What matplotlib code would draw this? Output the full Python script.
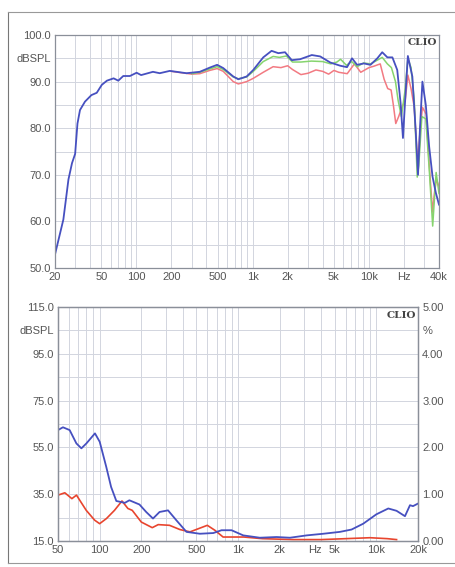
import numpy as np
import matplotlib.pyplot as plt
from matplotlib.lines import Line2D

# top chart: frequency response (Hz, dBSPL)
blue_f = [20, 23.6, 26.1, 28.0, 29.8, 31.2, 32.8, 36.2, 41.1, 45.7, 50.5, 55.9, 63.8, 70, 77.2, 88.1,
          100.6, 110, 139, 159, 194, 270, 351, 428, 495, 559, 681, 753, 889, 1013, 1234, 1455,
          1662, 1899, 2169, 2558, 3225, 3808, 4647, 5672, 6477, 7155, 7904, 9027, 10300, 11800,
          13000, 14400, 15900, 17500, 18700, 19600, 20400, 21600, 23600, 25200, 26400, 27500,
          28800, 30800, 32900, 35200, 37600, 40000]
blue_db = [52.9, 60.4, 69.0, 72.5, 74.5, 81.0, 83.9, 85.7, 87.1, 87.6, 89.3, 90.2, 90.7, 90.2, 91.2, 91.2,
           91.9, 91.4, 92.1, 91.8, 92.3, 91.8, 92.1, 93.0, 93.6, 92.9, 91.1, 90.5, 91.1, 92.5, 95.2, 96.6,
           96.1, 96.3, 94.6, 94.8, 95.7, 95.4, 94.1, 93.4, 93.1, 95.0, 93.6, 93.9, 93.6, 95.0,
           96.3, 95.2, 95.2, 92.5, 85.4, 77.9, 85.4, 95.5, 91.1, 79.6, 70.0, 80.4,
           90.0, 85.0, 76.1, 69.6, 66.1, 63.6]

green_f = [300, 351, 428, 495, 559, 681, 753, 889, 1013, 1234, 1500, 1700, 1950, 2200, 2600, 3200,
           4000, 4700, 5300, 5700, 6400, 7100, 7900, 9000, 10300, 11800, 13000, 14400, 15600, 16900,
           17800, 19000, 20400, 21600, 23000, 24500, 26000, 26800, 28500, 30800, 33000, 35300,
           37800, 40000]
green_db = [91.7, 92.0, 92.7, 93.2, 92.6, 91.0, 90.6, 91.0, 92.2, 94.3, 95.4, 95.2, 95.5, 94.2, 94.2, 94.4,
            94.3, 93.8, 94.2, 94.8, 93.5, 94.3, 93.2, 94.0, 93.8, 94.6, 95.2, 93.8, 93.0, 90.0,
            86.0, 82.5, 88.0, 95.0, 93.0, 86.0, 69.5, 72.0, 82.5, 82.0, 71.0, 59.0,
            70.5, 66.0]

red_f = [200, 300, 351, 428, 495, 559, 681, 753, 889, 1013, 1234, 1500, 1750, 2000, 2200, 2600, 3000,
         3500, 4000, 4500, 5000, 5500, 6500, 7500, 8500, 10000, 11000, 12500, 13500, 14500, 15500,
         16200, 17000, 18000, 19200, 20500, 21600, 23000, 24500, 26200, 27200, 28800, 31000, 33000,
         35200, 36500, 38000, 40000]
red_db = [92.2, 91.6, 91.7, 92.4, 92.8, 92.2, 90.0, 89.5, 90.0, 90.7, 92.0, 93.2, 93.0, 93.4, 92.6, 91.5, 91.8,
          92.5, 92.2, 91.6, 92.4, 92.0, 91.7, 93.8, 92.0, 93.0, 93.3, 93.8, 90.5, 88.5, 88.2,
          85.0, 81.0, 82.5, 84.5, 86.0, 91.4, 88.5, 84.5, 72.5, 78.0, 84.5, 83.0, 72.0,
          62.0, 66.0, 69.0, 67.5]

# bottom chart: distortion (Hz, dBSPL on left scale)
thd_f = [50, 54.3, 60.7, 67.9, 73.8, 80.2, 92.5, 100.1, 111.6, 121, 132, 152, 164, 194, 217, 243, 271,
         312, 358, 424, 530, 663, 760, 898, 1091, 1437, 1900, 2375, 3135, 4138, 5455, 6620, 8040,
         10000, 12200, 14000, 16100, 17500, 18400, 20000]
thd_db = [62.4, 63.6, 62.4, 56.7, 54.6, 56.7, 61.0, 57.4, 46.7, 38.1, 32.1, 31.3, 32.4, 30.6, 27.4, 24.6, 27.4,
          28.1, 23.9, 18.9, 18.1, 18.4, 19.6, 19.6, 17.4, 16.4, 16.7, 16.4, 17.4, 18.1, 18.9, 19.9, 22.4,
          26.4, 28.9, 27.9, 25.6, 30.3, 29.9, 31.0]

h3_f = [50, 56, 63, 68, 80, 92, 100, 112, 128, 145, 160, 172, 200, 240, 265, 320, 380, 450, 600, 680,
        780, 900, 1100, 1500, 2500, 4000, 6000, 9000, 12000, 14000]
h3_db = [34.6, 35.6, 33.1, 34.6, 28.1, 23.9, 22.4, 24.6, 28.1, 32.1, 28.9, 28.1, 23.1, 20.7, 22.0, 21.7,
         19.9, 18.9, 21.7, 19.6, 16.7, 16.7, 16.7, 16.0, 15.6, 15.6, 16.0, 16.4, 16.0, 15.6]

top_ticks = [20, 50, 100, 200, 500, 1000, 2000, 5000, 10000, 20000, 40000]
top_ticklabels = ['20', '50', '100', '200', '500', '1k', '2k', '5k', '10k', 'Hz', '40k']
bot_ticks = [50, 100, 200, 500, 1000, 2000, 5000, 10000, 20000]
bot_ticklabels = ['50', '100', '200', '500', '1k', '2k', '5k', '10k', '20k']

BLUE = '#4650c0'
GREEN = '#86d46e'
PINK = '#f27a82'
RED = '#e8452e'
TXT = '#555555'
GRID = '#d2d5de'
FS = 8

plt.rcParams['font.family'] = ['Liberation Sans', 'DejaVu Sans']

fig = plt.figure(figsize=(4.56, 5.67), dpi=100)


def log_grid(ax, lo, hi):
    for dec in [10, 100, 1000, 10000]:
        for m in range(1, 10):
            f = dec * m
            if lo < f < hi:
                ax.axvline(f, color=GRID, lw=0.7, zorder=0)


def style(ax):
    for s in ax.spines.values():
        s.set_color('#8a8f99')
        s.set_linewidth(0.9)
    ax.tick_params(length=0, labelsize=FS, colors=TXT, pad=3)
    ax.minorticks_off()


# ---- top chart
ax1 = fig.add_axes([55 / 456, 1 - 268 / 567, 384 / 456, 233 / 567])
ax1.set_xscale('log')
ax1.set_xlim(20, 40000)
ax1.set_ylim(50, 100)
log_grid(ax1, 20, 40000)
for v in np.arange(55, 100, 5):
    ax1.axhline(v, color=GRID, lw=0.7, zorder=0)
ax1.plot(red_f, red_db, color=PINK, lw=1.1)
ax1.plot(green_f, green_db, color=GREEN, lw=1.1)
ax1.plot(blue_f, blue_db, color=BLUE, lw=1.3)
ax1.set_xticks(top_ticks)
ax1.set_xticklabels(top_ticklabels)
ax1.set_yticks([50, 60, 70, 80, 90, 95, 100])
ax1.set_yticklabels(['50.0', '60.0', '70.0', '80.0', '90.0', 'dBSPL', '100.0'])
style(ax1)
ax1.text(0.995, 0.985, 'CLIO', transform=ax1.transAxes, ha='right', va='top',
         family='DejaVu Serif', fontweight='bold', fontsize=7.5, color='#444444')

# ---- bottom chart
ax2 = fig.add_axes([58 / 456, 1 - 541 / 567, 360 / 456, 234 / 567])
ax2.set_xscale('log')
ax2.set_xlim(50, 20000)
ax2.set_ylim(15, 115)
log_grid(ax2, 50, 20000)
for v in np.arange(25, 115, 10):
    ax2.axhline(v, color=GRID, lw=0.7, zorder=0)
ax2.plot(h3_f, h3_db, color=RED, lw=1.2)
ax2.plot(thd_f, thd_db, color=BLUE, lw=1.3)
ax2.set_xticks(bot_ticks)
ax2.set_xticklabels(bot_ticklabels)
ax2.set_yticks([15, 35, 55, 75, 95, 105, 115])
ax2.set_yticklabels(['15.0', '35.0', '55.0', '75.0', '95.0', 'dBSPL', '115.0'])
style(ax2)
ax2.annotate('Hz', xy=(3600, 15), xycoords='data', xytext=(0, -3), textcoords='offset points',
             ha='center', va='top', fontsize=FS, color=TXT, annotation_clip=False)
ax2.text(0.995, 0.985, 'CLIO', transform=ax2.transAxes, ha='right', va='top',
         family='DejaVu Serif', fontweight='bold', fontsize=7.5, color='#444444')

ax3 = ax2.twinx()
ax3.set_ylim(0, 5)
ax3.set_yticks([0, 1, 2, 3, 4, 4.5, 5])
ax3.set_yticklabels(['0.00', '1.00', '2.00', '3.00', '4.00', '%', '5.00'])
style(ax3)

# page border of the scan
fig.add_artist(Line2D([8 / 456, 8 / 456], [1 - 12 / 567, 1 - 563 / 567], color='#777777', lw=0.8))
fig.add_artist(Line2D([8 / 456, 1], [1 - 12 / 567, 1 - 12 / 567], color='#999999', lw=0.8))
fig.add_artist(Line2D([8 / 456, 1], [1 - 563 / 567, 1 - 563 / 567], color='#999999', lw=0.8))

fig.savefig('out.png', dpi=100)
